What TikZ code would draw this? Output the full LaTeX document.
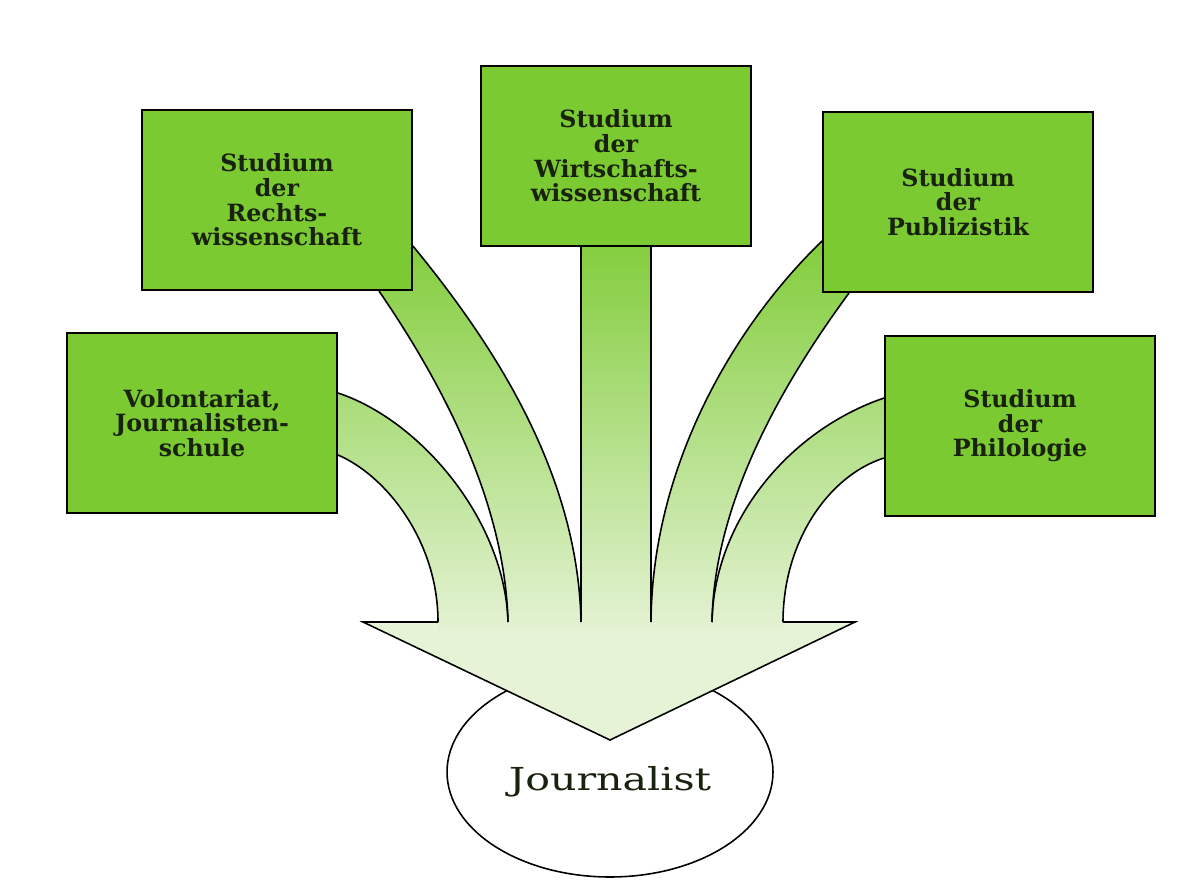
\documentclass[tikz,border=0pt]{standalone}
\usepackage{fontspec}
\usepackage{tikz}
\usetikzlibrary{shapes.geometric,positioning,backgrounds}
\setmainfont{DejaVu Serif}
\newfontfamily\boxfont{DejaVu Serif}
\newfontfamily\circfont[FakeStretch=1.3]{DejaVu Serif}
\definecolor{studgreen}{RGB}{124,202,50}
\definecolor{bandgreen}{RGB}{128,204,56}
\definecolor{bandpale}{RGB}{230,243,215}
\definecolor{inkdark}{RGB}{24,34,14}

% one gradient for all bands, so they fade together
\newcommand{\bandshade}{%
  \shade[top color=bandgreen, bottom color=bandpale] (300,230) rectangle (920,640);
  \fill[bandpale] (300,639) rectangle (920,760);}

\begin{document}
\begin{tikzpicture}[
    x=0.02cm, y=-0.02cm,
    box/.style={rectangle, draw=black, line width=1.1pt, fill=studgreen, minimum width=5.4cm, minimum height=3.6cm, align=center, text=inkdark, font=\boxfont\bfseries\fontsize{13.5}{14}\selectfont},
    band/.style={draw=black, line width=0.9pt},
    goal/.style={ellipse, draw=black, line width=0.9pt, fill=white, minimum width=6.52cm, minimum height=4.2cm, inner sep=0pt, text height=0.72cm, text depth=0pt, text=inkdark, font=\circfont\fontsize{18}{20}\selectfont}
]
    % Boxes
    \node[box] (volo) at (202,423) {Volontariat,\\Journalisten-\\schule};
    \node[box] (recht) at (277,200) {Studium\\der\\Rechts-\\wissenschaft};
    \node[box] (wirt) at (616,156) {Studium\\der\\Wirtschafts-\\wissenschaft};
    \node[box] (publ) at (958,202) {Studium\\der\\Publizistik};
    \node[box] (phil) at (1020,426) {Studium\\der\\Philologie};

    % Band starts
    \coordinate (vup) at ([yshift=0.6cm]volo.east);
    \coordinate (vlo) at ([yshift=-0.64cm]volo.east);
    \coordinate (rl) at ([xshift=-0.68cm]recht.south east);
    \coordinate (rr) at ([yshift=0.9cm]recht.south east);
    \coordinate (wl) at ([xshift=-0.7cm]wirt.south);
    \coordinate (wr) at ([xshift=0.7cm]wirt.south);
    \coordinate (pl) at ([yshift=1.04cm]publ.south west);
    \coordinate (pr) at ([xshift=0.54cm]publ.south west);
    \coordinate (hup) at ([yshift=0.56cm]phil.west);
    \coordinate (hlo) at ([yshift=-0.64cm]phil.west);

    % Arrow
    \coordinate (wingl) at (363,622);
    \coordinate (wingr) at (855,622);
    \coordinate (tip) at (610,740);
    \coordinate (fa) at (438,622);
    \coordinate (fb) at (508,622);
    \coordinate (fc) at (wl |- wingl);
    \coordinate (fd) at (wr |- wingl);
    \coordinate (fe) at (712,622);
    \coordinate (ff) at (783,622);

    \begin{scope}[on background layer]
        \fill[white] (0,0) rectangle (1202,895);
        \node[goal] (journ) at (610,772) {Journalist};
        \fill[bandpale] (wingl) -- (wingr) -- (tip) -- cycle;

        % Band fills
        \begin{scope}
            \clip (vup) .. controls (420,420) and (505,520) .. (fb) -- ++(0,8) -| (fa) .. controls (438,540) and (385,475) .. (vlo) -- cycle;
            \bandshade
        \end{scope}
        \begin{scope}
            \clip (rl) .. controls (440,380) and (505,500) .. (fb) -- ++(0,8) -| (fc) .. controls (578,470) and (490,340) .. (rr) -- cycle;
            \bandshade
        \end{scope}
        \begin{scope}
            \clip ([yshift=0.2cm]wl) rectangle ([yshift=-0.16cm]fd);
            \bandshade
        \end{scope}
        \begin{scope}
            \clip (pl) .. controls (730,330) and (652,470) .. (fd) -- ++(0,8) -| (fe) .. controls (714,500) and (785,380) .. (pr) -- cycle;
            \bandshade
        \end{scope}
        \begin{scope}
            \clip (hup) .. controls (790,430) and (714,520) .. (fe) -- ++(0,8) -| (ff) .. controls (783,540) and (830,475) .. (hlo) -- cycle;
            \bandshade
        \end{scope}

        % Band edges
        \draw[band] (vup) .. controls (420,420) and (505,520) .. (fb);
        \draw[band] (vlo) .. controls (385,475) and (438,540) .. (fa);
        \draw[band] (rl) .. controls (440,380) and (505,500) .. (fb);
        \draw[band] (rr) .. controls (490,340) and (578,470) .. (fc);
        \draw[band] (wl) -- (fc);
        \draw[band] (wr) -- (fd);
        \draw[band] (pl) .. controls (730,330) and (652,470) .. (fd);
        \draw[band] (pr) .. controls (785,380) and (714,500) .. (fe);
        \draw[band] (hup) .. controls (790,430) and (714,520) .. (fe);
        \draw[band] (hlo) .. controls (830,475) and (783,540) .. (ff);
        \draw[band] (fa) -- (wingl) -- (tip) -- (wingr) -- (ff);
    \end{scope}
    \useasboundingbox (0,0) rectangle (1202,895);
\end{tikzpicture}
\end{document}
